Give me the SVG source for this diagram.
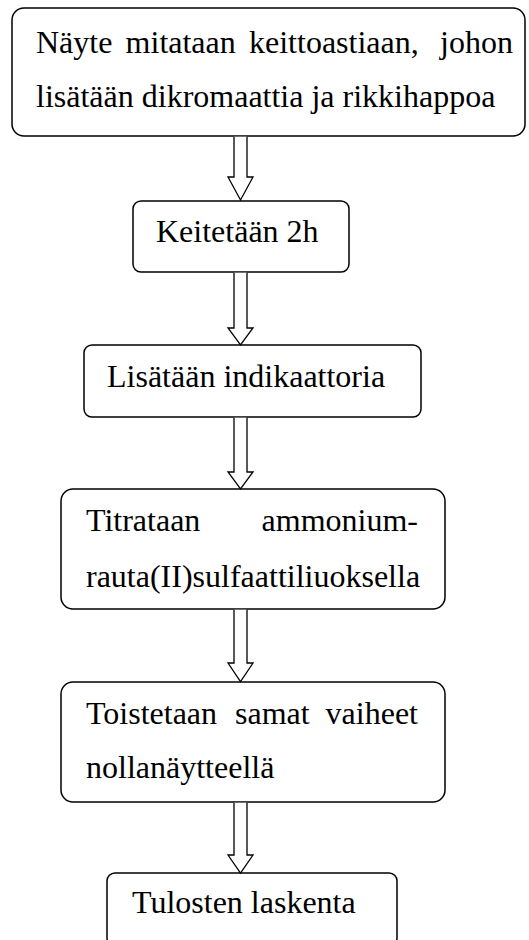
<svg xmlns="http://www.w3.org/2000/svg" width="529" height="940" viewBox="0 0 529 940">
<style>
.box{fill:#fff;stroke:#000;stroke-width:1.5}
.arr{fill:#fff;stroke:#000;stroke-width:1.3;stroke-linejoin:miter}
text{font-family:"Liberation Serif","Times New Roman",serif;font-size:32px;fill:#000}
</style>
<rect width="529" height="940" fill="#fff"/>
<g id="n1">
<rect class="box" x="12" y="8" width="513" height="128" rx="12"/>
<text x="36" y="53">Näyte</text>
<text x="125.6" y="53">mitataan</text>
<text x="249" y="53">keittoastiaan,</text>
<text x="513" y="53" text-anchor="end">johon</text>
<text x="36" y="107">lisätään dikromaattia ja rikkihappoa</text>
</g>
<g id="n2">
<rect class="box" x="133" y="201" width="216" height="71" rx="8"/>
<text x="156" y="242">Keitetään 2h</text>
</g>
<g id="n3">
<rect class="box" x="84" y="345" width="337" height="72" rx="8"/>
<text x="107" y="387">Lisätään indikaattoria</text>
</g>
<g id="n4">
<rect class="box" x="61" y="489" width="384" height="120" rx="12"/>
<text x="86" y="531">Titrataan</text>
<text x="418" y="531" text-anchor="end">ammonium-</text>
<text x="86" y="587">rauta(II)sulfaattiliuoksella</text>
</g>
<g id="n5">
<rect class="box" x="61" y="682" width="384" height="120" rx="12"/>
<text x="86" y="724">Toistetaan</text>
<text x="235" y="724">samat</text>
<text x="418" y="724" text-anchor="end">vaiheet</text>
<text x="86" y="778">nollanäytteellä</text>
</g>
<g id="n6">
<rect class="box" x="107" y="873" width="290" height="73" rx="8"/>
<text x="132" y="913">Tulosten laskenta</text>
</g>
<g id="connectors">
<path class="arr" d="M234,136.8 V177 H228 L240.5,200 L253,177 H247 V136.8"/>
<path class="arr" d="M234,272.8 V328 H228 L240.5,345 L253,328 H247 V272.8"/>
<path class="arr" d="M234,417.8 V472 H228 L240.5,489 L253,472 H247 V417.8"/>
<path class="arr" d="M234,609.8 V663 H228 L240.5,681.5 L253,663 H247 V609.8"/>
<path class="arr" d="M234,802.8 V855 H228 L240.5,873 L253,855 H247 V802.8"/>
</g>
</svg>
